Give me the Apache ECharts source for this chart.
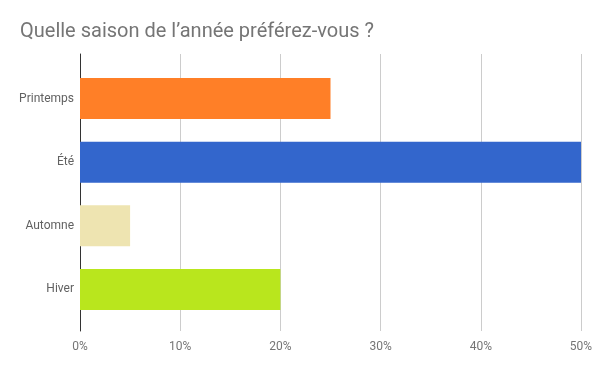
<!DOCTYPE html>
<html><head><meta charset="utf-8">
<script src="https://cdn.jsdelivr.net/npm/echarts@6/dist/echarts.min.js"></script>
<style>html,body{margin:0;padding:0;background:#fff}#c{width:600px;height:371px}</style>
</head><body><div id="c"></div>
<script>
const categories = ['Printemps', 'Été', 'Automne', 'Hiver'];
const values = [25, 50, 5, 20];
const colors = ['#ff7f27', '#3366cc', '#eee4b1', '#b9e61d'];
const tickLabels = ['0%', '10%', '20%', '30%', '40%', '50%'];

const chart = echarts.init(document.getElementById('c'), null, {renderer: 'canvas'});
const font = 'Roboto, sans-serif';
chart.setOption({
  animation: false,
  title: {
    text: "Quelle saison de l’année préférez-vous ?",
    left: 15, top: 17,
    textStyle: {fontFamily: font, fontSize: 20, fontWeight: 'normal', color: '#757575'}
  },
  grid: [
    {left: 80, right: 19, top: 54, bottom: 40, containLabel: false},
    {left: 80, right: 19, top: 66.7, bottom: 49.7, containLabel: false}
  ],
  xAxis: [
    {gridIndex: 0, type: 'value', min: 0, max: 50, interval: 10,
     axisLine: {show: false}, axisTick: {show: false},
     splitLine: {show: true, lineStyle: {color: '#cccccc', width: 1}},
     axisLabel: {fontFamily: font, fontSize: 12, color: '#757575', margin: 10,
       formatter: (v) => tickLabels[Math.round(v / 10)]}},
    {gridIndex: 1, type: 'value', min: 0, max: 50, show: false}
  ],
  yAxis: [
    {gridIndex: 0, type: 'category', data: categories, inverse: true,
     axisLine: {show: true, lineStyle: {color: '#333333', width: 1}},
     axisTick: {show: false}, axisLabel: {show: false}, splitLine: {show: false}},
    {gridIndex: 1, type: 'category', data: categories, inverse: true,
     axisLine: {show: false}, axisTick: {show: false}, splitLine: {show: false},
     axisLabel: {fontFamily: font, fontSize: 12, color: '#616161', margin: 6}}
  ],
  series: [{
    type: 'bar', xAxisIndex: 1, yAxisIndex: 1,
    barCategoryGap: '35.5%',
    data: values.map((v, i) => ({value: v, itemStyle: {color: colors[i]}}))
  }]
});
</script></body></html>
